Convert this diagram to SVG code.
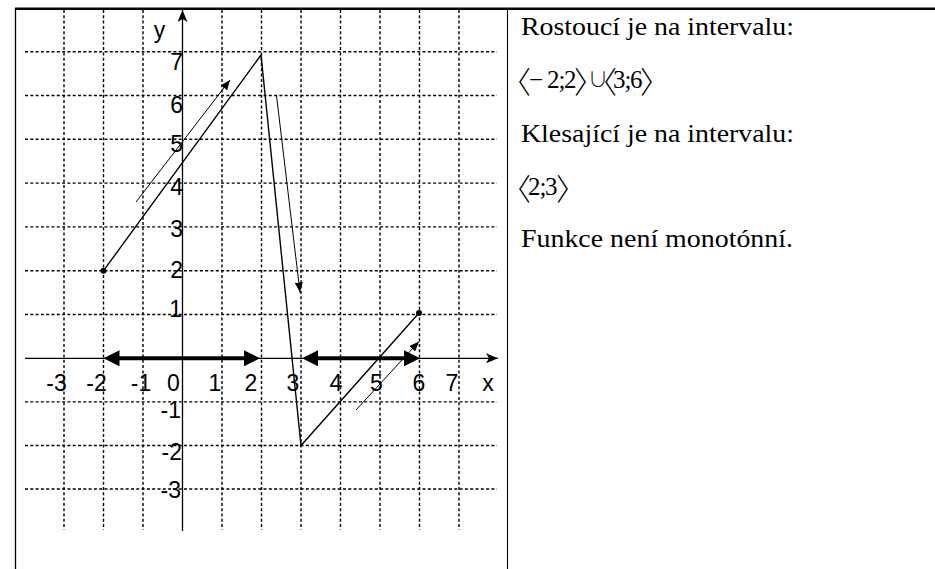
<svg xmlns="http://www.w3.org/2000/svg" width="935" height="569" viewBox="0 0 935 569">
<style>
.g{stroke:#000;stroke-width:1.4;stroke-dasharray:3 2.3;fill:none}
.ax{stroke:#000;stroke-width:1.3;fill:none}
.fn{stroke:#000;stroke-width:1.4;fill:none}
.ar{stroke:#000;stroke-width:1;fill:none}
.th{stroke:#000;stroke-width:4;fill:none}
.lb{font-family:"Liberation Sans",Arial,sans-serif;font-size:23px;fill:#000}
.tx{font-family:"Liberation Serif","Times New Roman",serif;font-size:25px;fill:#000}
.br{font-family:"Noto Sans CJK JP","Noto Sans CJK SC",sans-serif;font-size:30px;font-weight:300}
.cu{font-family:"Noto Sans CJK JP","Noto Sans CJK SC",sans-serif;font-size:20px;font-weight:300}
</style>
<defs>
<marker id="ah" viewBox="0 0 10 8" refX="10" refY="4" markerWidth="10" markerHeight="8" markerUnits="userSpaceOnUse" orient="auto"><path d="M0,0 L10,4 L0,8 Z" fill="#000"/></marker>
<marker id="bh" viewBox="0 0 16 16" refX="4" refY="8" markerWidth="16" markerHeight="16" markerUnits="userSpaceOnUse" orient="auto-start-reverse"><path d="M0,0 L16,8 L0,16 Z" fill="#000"/></marker>
<marker id="axh" viewBox="0 0 12 10" refX="12" refY="5" markerWidth="12" markerHeight="10" markerUnits="userSpaceOnUse" orient="auto"><path d="M0,0 L12,5 L0,10 L3,5 Z" fill="#000"/></marker>
</defs>

<g id="table">
<line x1="15" y1="8.7" x2="935" y2="8.7" stroke="#000" stroke-width="2.6"/>
<line x1="15.5" y1="8" x2="15.5" y2="569" stroke="#000" stroke-width="1.3"/>
<line x1="507.5" y1="8" x2="507.5" y2="569" stroke="#000" stroke-width="1.1"/>
</g>

<g id="grid">
<line class="g" x1="25" y1="51.7" x2="497" y2="51.7"/>
<line class="g" x1="25" y1="95.5" x2="497" y2="95.5"/>
<line class="g" x1="25" y1="139.3" x2="497" y2="139.3"/>
<line class="g" x1="25" y1="183.1" x2="497" y2="183.1"/>
<line class="g" x1="25" y1="226.9" x2="497" y2="226.9"/>
<line class="g" x1="25" y1="270.7" x2="497" y2="270.7"/>
<line class="g" x1="25" y1="314.5" x2="497" y2="314.5"/>
<line class="g" x1="25" y1="401.9" x2="497" y2="401.9"/>
<line class="g" x1="25" y1="445.5" x2="497" y2="445.5"/>
<line class="g" x1="25" y1="489" x2="497" y2="489"/>
<line class="g" x1="64" y1="10" x2="64" y2="530"/>
<line class="g" x1="103.5" y1="10" x2="103.5" y2="530"/>
<line class="g" x1="143" y1="10" x2="143" y2="530"/>
<line class="g" x1="222" y1="10" x2="222" y2="530"/>
<line class="g" x1="261.5" y1="10" x2="261.5" y2="530"/>
<line class="g" x1="301" y1="10" x2="301" y2="530"/>
<line class="g" x1="340.5" y1="10" x2="340.5" y2="530"/>
<line class="g" x1="380" y1="10" x2="380" y2="530"/>
<line class="g" x1="419.5" y1="10" x2="419.5" y2="530"/>
<line class="g" x1="459" y1="10" x2="459" y2="530"/>
</g>

<g id="axes">
<line class="ax" x1="182.5" y1="531" x2="182.5" y2="10" marker-end="url(#axh)"/>
<line class="ax" x1="25" y1="358.3" x2="498" y2="358.3" marker-end="url(#axh)"/>
</g>

<g id="labels">
<text class="lb" x="159.5" y="38" text-anchor="middle">y</text>
<text class="lb" x="488" y="391" text-anchor="middle">x</text>
<text class="lb" x="183" y="70" text-anchor="end">7</text>
<text class="lb" x="183" y="113" text-anchor="end">6</text>
<text class="lb" x="183" y="152" text-anchor="end">5</text>
<text class="lb" x="183" y="195" text-anchor="end">4</text>
<text class="lb" x="183" y="237" text-anchor="end">3</text>
<text class="lb" x="183" y="278" text-anchor="end">2</text>
<text class="lb" x="182" y="317" text-anchor="end">1</text>
<text class="lb" x="181" y="418" text-anchor="end">-1</text>
<text class="lb" x="182" y="460" text-anchor="end">-2</text>
<text class="lb" x="181" y="498" text-anchor="end">-3</text>
<text class="lb" x="56.5" y="391" text-anchor="middle">-3</text>
<text class="lb" x="96.5" y="391" text-anchor="middle">-2</text>
<text class="lb" x="141" y="391" text-anchor="middle">-1</text>
<text class="lb" x="173.5" y="391" text-anchor="middle">0</text>
<text class="lb" x="215" y="391" text-anchor="middle">1</text>
<text class="lb" x="251" y="391" text-anchor="middle">2</text>
<text class="lb" x="293" y="391" text-anchor="middle">3</text>
<text class="lb" x="336" y="391" text-anchor="middle">4</text>
<text class="lb" x="376.5" y="391" text-anchor="middle">5</text>
<text class="lb" x="419" y="391" text-anchor="middle">6</text>
<text class="lb" x="452" y="391" text-anchor="middle">7</text>
</g>

<g id="function">
<polyline class="fn" points="103.5,270.7 261,55 301,445.5 419,313"/>
<circle cx="103.5" cy="270.7" r="3" fill="#000"/>
<circle cx="419" cy="313" r="3" fill="#000"/>
</g>

<g id="connectors">
<line class="ar" x1="136" y1="202" x2="230" y2="80" marker-end="url(#ah)"/>
<line class="ar" x1="276.5" y1="95.5" x2="300" y2="292.5" marker-end="url(#ah)"/>
<line class="ar" x1="356" y1="410" x2="419" y2="341.5" marker-end="url(#ah)"/>
<line class="th" x1="115.5" y1="358.3" x2="248" y2="358.3" marker-start="url(#bh)" marker-end="url(#bh)"/>
<line class="th" x1="314" y1="358.3" x2="408" y2="358.3" marker-start="url(#bh)" marker-end="url(#bh)"/>
</g>

<g id="text">
<text class="tx" x="521" y="35" textLength="273" lengthAdjust="spacingAndGlyphs">Rostoucí je na intervalu:</text>
<text class="tx" y="88"><tspan class="br" x="501" y="93">〈</tspan><tspan x="529" y="88">−</tspan><tspan x="547 558.5 564" y="88">2;2</tspan><tspan class="br" x="574" y="93">〉</tspan><tspan class="cu" x="588" y="87">∪</tspan><tspan class="br" x="587" y="93">〈</tspan><tspan x="613 624.5 630" y="88">3;6</tspan><tspan class="br" x="640" y="93">〉</tspan></text>
<text class="tx" x="521" y="142" textLength="273" lengthAdjust="spacingAndGlyphs">Klesající je na intervalu:</text>
<text class="tx" y="195"><tspan class="br" x="501" y="200">〈</tspan><tspan x="528 539.5 545" y="195">2;3</tspan><tspan class="br" x="556" y="200">〉</tspan></text>
<text class="tx" x="521" y="247" textLength="272" lengthAdjust="spacingAndGlyphs">Funkce není monotónní.</text>
</g>
</svg>
